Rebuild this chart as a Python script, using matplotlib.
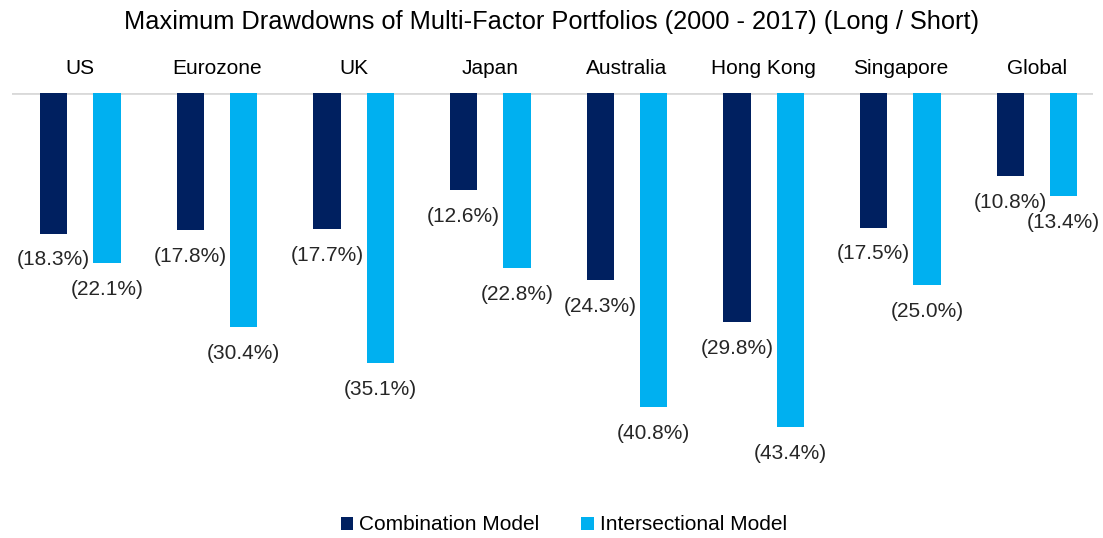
import numpy as np
import matplotlib.pyplot as plt

plt.rcParams['font.family'] = ['Liberation Sans', 'DejaVu Sans']

## data
regions = ['US', 'Eurozone', 'UK', 'Japan', 'Australia', 'Hong Kong', 'Singapore', 'Global']
combination = [18.3, 17.8, 17.7, 12.6, 24.3, 29.8, 17.5, 10.8]
intersectional = [22.1, 30.4, 35.1, 22.8, 40.8, 43.4, 25.0, 13.4]

dark = '#002060'
light = '#00B0F0'

## figure settings
fig = plt.figure(figsize=(11.03, 5.38), dpi=100)
W, H = 1103.0, 538.0
ax = fig.add_axes([12/W, 1-470/H, (1093-12)/W, (470-93)/H])

x = np.arange(len(regions))
off = 0.195
bw = 0.2
comb = -np.array(combination)
inter = -np.array(intersectional)
ax.bar(x-off, comb, bw, color=dark, label='Combination Model')
ax.bar(x+off, inter, bw, color=light, label='Intersectional Model')

# value labels under each bar
for xi, v in zip(x-off, combination):
    ax.annotate('(%.1f%%)' % v, (xi, -v), xytext=(0, -12), textcoords='offset points',
                ha='center', va='top', fontsize=15, color='#262626')
for xi, v in zip(x+off, intersectional):
    ax.annotate('(%.1f%%)' % v, (xi, -v), xytext=(0, -12), textcoords='offset points',
                ha='center', va='top', fontsize=15, color='#262626')

# category names above the zero line
for xi, name in zip(x, regions):
    ax.annotate(name, (xi, 0), xytext=(0, 18), textcoords='offset points',
                ha='center', va='center', fontsize=15, color='black', annotation_clip=False)

ax.axhline(0, color='#d9d9d9', lw=2, zorder=0)
ax.set_xlim(-0.5, 7.41)
ax.set_ylim(-49, 0)
ax.axis('off')

fig.text(0.5, 1-22/H, 'Maximum Drawdowns of Multi-Factor Portfolios (2000 - 2017) (Long / Short)',
         ha='center', va='center', fontsize=18.3)

fig.legend(loc='center', bbox_to_anchor=(564/W, 1-525/H), ncol=2, frameon=False,
           fontsize=15, handlelength=0.6, handleheight=0.6, handletextpad=0.3,
           columnspacing=2.0)

plt.savefig('out.png', dpi=100)
